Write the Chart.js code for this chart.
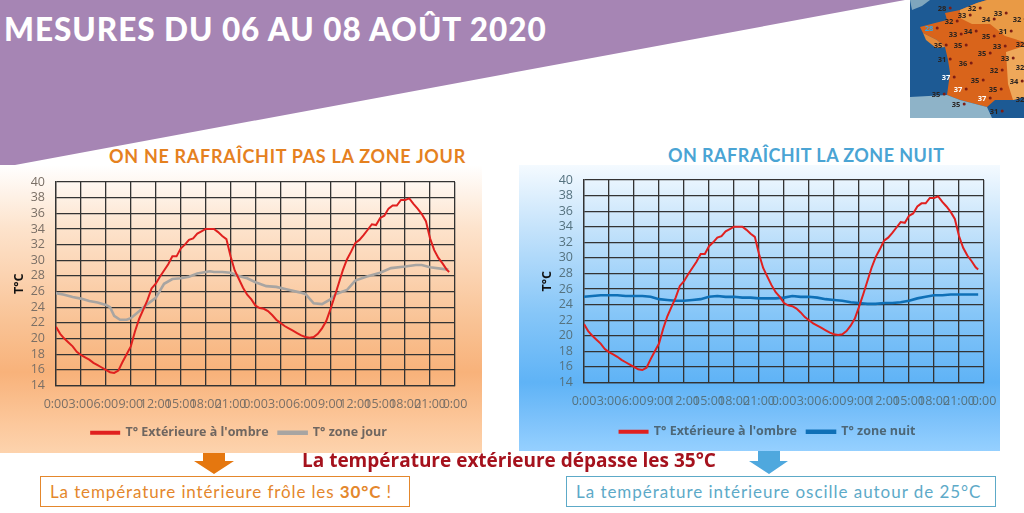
<!DOCTYPE html>
<html lang="fr"><head><meta charset="utf-8">
<script src="https://cdn.jsdelivr.net/npm/chart.js@4"></script>
<style>
html,body{margin:0;padding:0;background:#fff;width:1024px;height:513px;overflow:hidden}
.a{position:absolute;white-space:nowrap}
#title{left:4px;top:9px;font:900 31.5px/40px Lato,sans-serif;color:#fff;letter-spacing:.97px}
.head{font:700 18px/20px Lato,sans-serif}
#pl{left:0;top:165px;width:482px;height:288px;background:linear-gradient(#fff 0,#fde3cc 22%,#f9c294 55%,#f8b27a 72%,#fcc89c 90%,#fdd3ad 100%)}
#pr{left:519px;top:165px;width:481px;height:286px;background:linear-gradient(#f4faff 0,#c5e3fb 22%,#86c6f8 52%,#5fb3f6 76%,#7fc3fb 90%,#95d0ff 100%)}
canvas{position:absolute}
.box{box-sizing:border-box;height:31px;background:#fff;font:400 17px/29px Lato,sans-serif;padding-left:9px}
#msg{left:302px;top:449px;font:700 19px/22px "Open Sans",sans-serif;color:#a5121d}
#map span{position:absolute;font:700 7.5px/9px "Open Sans",sans-serif;color:#2a2320;transform:translate(-50%,-50%)}
#map span::after{content:"";position:absolute;right:-5px;top:3px;width:3px;height:3px;border-radius:50%;background:#7d1d14}
</style></head><body>
<svg class="a" style="left:0;top:0" width="1024" height="513" viewBox="0 0 1024 513"><polygon points="0,0 905,0 15,165 0,167" fill="#a685b4"/></svg>
<div id="title" class="a">MESURES DU 06 AU 08 AOÛT 2020</div>
<div class="a head" style="left:109px;top:146px;color:#e5811f;letter-spacing:.7px">ON NE RAFRAÎCHIT PAS LA ZONE JOUR</div>
<div class="a head" style="left:668px;top:145px;color:#4aa4d4;letter-spacing:.44px">ON RAFRAÎCHIT LA ZONE NUIT</div>
<div id="pl" class="a"></div><div id="pr" class="a"></div>
<canvas id="c1" style="left:0;top:165px" width="478" height="284"></canvas>
<canvas id="c2" style="left:519px;top:165px" width="481" height="283"></canvas>
<svg class="a" style="left:0;top:0" width="1024" height="513" viewBox="0 0 1024 513">
<polygon points="203,453 225,453 225,461 234,461 214,474 194,461 203,461" fill="#e5770f"/>
<polygon points="758,451 780,451 780,461 788,461 769,474 749,461 758,461" fill="#4fa8de"/></svg>
<div id="msg" class="a">La température extérieure dépasse les 35°C</div>
<div class="a box" style="left:40px;top:476px;width:370px;border:1.5px solid #e4872c;color:#e4872c;letter-spacing:.88px">La température intérieure frôle les <b>30°C</b> !</div>
<div class="a box" style="left:566px;top:476px;width:430px;border:1.5px solid #5daac8;color:#5daac8;letter-spacing:.96px">La température intérieure oscille autour de 25°C</div>
<div id="map" class="a" style="left:910px;top:0;width:114px;height:118px;overflow:hidden">
<svg width="114" height="118" viewBox="910 0 114 118" style="position:absolute;left:0;top:0">
<rect x="910" y="0" width="114" height="118" fill="#1d5a94"/>
<polygon points="910,0 930,0 922,6 912,10" fill="#7fa6bd"/>
<polygon points="945,13 960,10 977,3 987,0 1024,0 1024,97 1013,100 995,100 987,107 960,100 947,95 950,73 948,60 945,47 937,40 923,33 920,27 935,23 947,20" fill="#d9641b"/>
<polygon points="960,10 977,3 987,0 1024,0 1024,42 1005,36 990,24 972,24 960,18" fill="#e99a45"/>
<polygon points="1006,52 1024,46 1024,97 1013,100 1008,84" fill="#eea85a"/>
<polygon points="923,33 937,40 945,47 936,48 926,40" fill="#e58b3a"/>
<polygon points="909,97 947,95 960,100 987,107 992,118 909,118" fill="#8eb3c8"/>
</svg>
</div>
<script>
const tickLabels=["0:00","3:00","6:00","9:00","12:00","15:00","18:00","21:00","0:00","3:00","6:00","9:00","12:00","15:00","18:00","21:00","0:00"];
const yMin=14,yMax=40,yStep=2,xMax=48,xStep=3;
const hoursExt=[0,0.5,1,1.5,2,2.5,3,3.5,4,4.5,5,5.5,6,6.5,7,7.5,8,8.5,9,9.5,10,10.5,11,11.5,12,12.5,13,13.5,14,14.5,15,15.5,16,16.5,17,17.5,18,18.5,19,19.5,20,20.5,21,21.5,22,22.5,23,23.5,24,24.5,25,25.5,26,26.5,27,27.5,28,28.5,29,29.5,30,30.5,31,31.5,32,32.5,33,33.5,34,34.5,35,35.5,36,36.5,37,37.5,38,38.5,39,39.5,40,40.5,41,41.5,42,42.5,43,43.5,44,44.5,45,45.5,46,46.5,47,47.3];
const ext=[21.5,20.6,20.0,19.5,19.0,18.3,17.9,17.6,17.3,16.9,16.6,16.3,16.0,15.7,15.6,15.9,17.0,18.0,19.0,20.9,22.5,23.7,24.9,26.4,27.0,27.9,28.7,29.5,30.5,30.5,31.5,32.0,32.6,32.8,33.4,33.7,34.0,34.0,34.0,33.6,33.1,32.7,30.5,28.7,27.6,26.5,25.6,25.0,24.2,23.9,23.8,23.5,23.0,22.4,22.0,21.6,21.3,21.0,20.7,20.4,20.2,20.1,20.2,20.6,21.3,22.2,23.7,25.3,27.0,28.7,30.1,31.1,32.2,32.6,33.2,33.9,34.6,34.5,35.4,35.7,36.6,37.0,37.0,37.7,37.7,37.9,37.2,36.6,35.9,35.0,32.8,31.3,30.3,29.6,28.8,28.5];
const hoursJour=[0,1,2,3,4,5,6,6.5,7,7.7,8.5,9,10,11,12,13,14,15,16,17,18,18.5,19,20,21,22,23,24,25.3,26.5,27.7,29.3,30,31,32,33,33.7,35,36,37.3,39,40.3,42,43.3,44,45,46.5,47.2];
const jour=[25.8,25.6,25.3,25.1,24.8,24.6,24.3,24.0,22.9,22.4,22.4,22.6,23.5,24.4,25.2,27.0,27.6,27.7,27.9,28.3,28.5,28.6,28.5,28.5,28.4,28.0,27.7,27.2,26.7,26.6,26.3,25.9,25.7,24.5,24.4,25.0,25.7,26.2,27.4,27.9,28.4,29.0,29.2,29.4,29.4,29.1,28.9,28.8];
const hoursNuit=[0,1,2,3,4,5,6,7,8,9,10,11,12,13,14,15,16,17,18,19,20,21,22,23,24,25,26,27,28,29,30,31,32,33,34,35,36,37,38,39,40,41,42,43,44,45,46,47.3];
const nuit=[25.0,25.1,25.2,25.2,25.2,25.1,25.1,25.1,25.0,24.7,24.6,24.5,24.5,24.6,24.7,25.0,25.1,25.0,25.0,24.9,24.9,24.8,24.8,24.8,24.9,25.1,25.0,25.0,24.9,24.7,24.6,24.5,24.3,24.2,24.1,24.1,24.2,24.2,24.3,24.5,24.8,25.0,25.2,25.2,25.3,25.3,25.3,25.3];
const extName="T° Extérieure à l'ombre",jourName="T° zone jour",nuitName="T° zone nuit",yTitle="T°C";
const extColor="#e0201f",jourColor="#a8a5a2",nuitColor="#0f70b7";
const mapLabels=[["28",942,8],["32",972,8],["33",962,15],["33",998,13],["34",986,19],["32",949,21],["32",1017,19],["28",929,28,"#2aa8f0"],["33",953,34],["34",968,31],["35",986,36],["31",1003,31],["35",938,45],["35",958,45],["33",997,46],["32",1020,44],["35",982,53],["31",942,59],["36",963,63],["33",1005,58],["32",994,70],["32",1020,67],["37",946,77,"#fff"],["35",975,80],["34",1014,81],["37",958,89,"#fff"],["35",993,89],["35",936,94],["37",982,98,"#fff"],["32",1020,99],["35",956,104],["31",994,111]];
const mapEl=document.getElementById('map');
mapLabels.forEach(([t,x,y,c])=>{const s=document.createElement('span');s.textContent=t;s.style.left=(x-910)+'px';s.style.top=y+'px';if(c)s.style.color=c;mapEl.appendChild(s);});

function makeChart(id,hoursB,valuesB,nameB,colorB,plotLeft,plotRight,plotTop,plotH,tickColor,legendColor,legendCenter,titlePad){
 const el=document.getElementById(id);
 return new Chart(el,{type:'line',
  data:{datasets:[
   {label:extName,data:hoursExt.map((h,i)=>({x:h,y:ext[i]})),borderColor:extColor,backgroundColor:extColor,borderWidth:2,pointRadius:0,tension:0,order:1},
   {label:nameB,data:hoursB.map((h,i)=>({x:h,y:valuesB[i]})),borderColor:colorB,backgroundColor:colorB,borderWidth:2.6,pointRadius:0,tension:0,order:2}]},
  plugins:[{id:'legendPlace',afterLayout:c=>{c.legend.left=0;c.legend.right=2*legendCenter;}}],
  options:{responsive:false,animation:false,
   layout:{padding:{left:0,right:el.width-plotRight,top:plotTop,bottom:0}},
   plugins:{tooltip:{enabled:false},
    legend:{position:'bottom',labels:{boxWidth:28,boxHeight:2,padding:10,color:legendColor,font:{family:'"Open Sans",sans-serif',size:12.5,weight:'700'}}}},
   scales:{
    x:{type:'linear',min:0,max:xMax,
     afterBuildTicks:s=>{s.ticks=tickLabels.map((_,i)=>({value:i*xStep}));},
     afterFit:s=>{s.height=el.height-plotTop-plotH-33;s.paddingLeft=0;s.paddingRight=0;},
     grid:{color:'#333',lineWidth:1.3,drawTicks:false},border:{color:'#333',width:1.3},
     ticks:{autoSkip:false,maxRotation:0,padding:11,color:tickColor,font:{family:'"Open Sans",sans-serif',size:12.5},callback:(v,i)=>tickLabels[i]}},
    y:{min:yMin,max:yMax,
     afterFit:s=>{s.width=plotLeft;s.paddingTop=0;s.paddingBottom=0;},
     grid:{color:'#333',lineWidth:1.3,drawTicks:false},border:{color:'#333',width:1.3},
     title:{display:true,text:yTitle,color:'#111',font:{family:'"Open Sans",sans-serif',size:12.5,weight:'700'},padding:{top:titlePad,bottom:0}},
     ticks:{stepSize:yStep,autoSkip:false,padding:11,color:tickColor,font:{family:'"Open Sans",sans-serif',size:12.5}}}
   }}});
}
makeChart('c1',hoursJour,jour,jourName,jourColor,56,455,182-165,203,'#7a6f66','#6f6660',239,12);
makeChart('c2',hoursNuit,nuit,nuitName,nuitColor,65,465,180-165,202,'#55727f','#4d6777',248.5,21);
</script>
</body></html>
